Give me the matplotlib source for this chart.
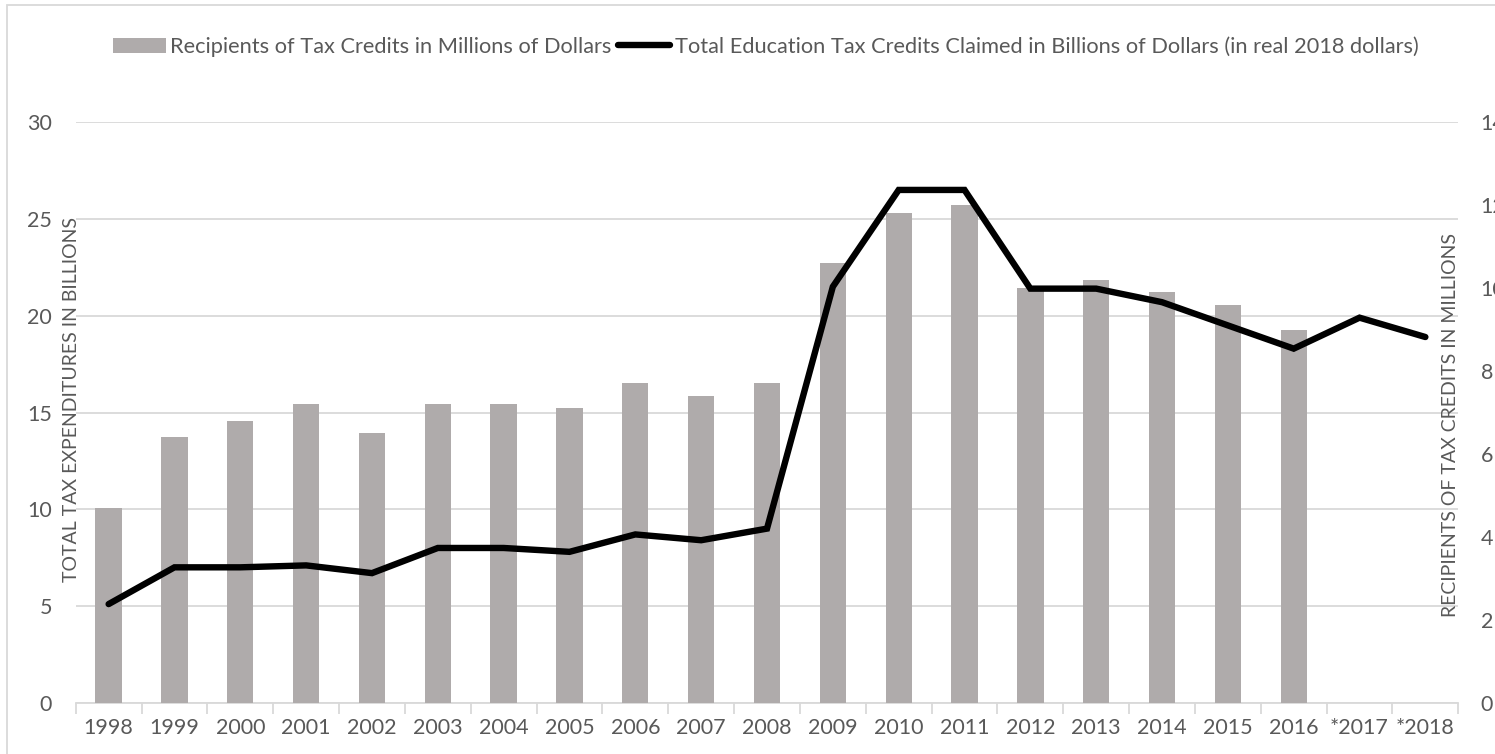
import numpy as np
import matplotlib.pyplot as plt
from matplotlib.patches import Rectangle

# values
years = ['1998', '1999', '2000', '2001', '2002', '2003', '2004', '2005', '2006',
         '2007', '2008', '2009', '2010', '2011', '2012', '2013', '2014', '2015',
         '2016', '*2017', '*2018']
# recipients in millions (right axis), no data for 2017/2018
recipients = [4.7, 6.4, 6.8, 7.2, 6.5, 7.2, 7.2, 7.1, 7.7, 7.4, 7.7,
              10.6, 11.8, 12.0, 10.0, 10.2, 9.9, 9.6, 9.0]
# total credits claimed in billions (left axis)
credits = [5.1, 7.0, 7.0, 7.1, 6.7, 8.0, 8.0, 7.8, 8.7, 8.4, 9.0,
           21.5, 26.5, 26.5, 21.4, 21.4, 20.7, 19.5, 18.3, 19.9, 18.9]

bar_label = 'Recipients of Tax Credits in Millions of Dollars'
line_label = 'Total Education Tax Credits Claimed in Billions of Dollars (in real 2018 dollars)'

plt.rcParams['font.family'] = ['Lato', 'DejaVu Sans']
text_col = '#595959'
grid_col = '#d9d9d9'

W, H = 1495, 754
fig = plt.figure(figsize=(W / 100, H / 100), dpi=100)
ax = fig.add_axes([75.7 / W, 1 - 702.8 / H, (1458.3 - 75.7) / W, (702.8 - 122.2) / H])

x = np.arange(len(years))

# left axis: gridlines and scale for the line
ax.set_xlim(-0.5, len(years) - 0.5)
ax.set_ylim(0, 30)
ax.set_yticks(np.arange(0, 31, 5))
ax.grid(axis='y', color=grid_col, linewidth=1.3)
ax.set_axisbelow(True)
for s in ['top', 'left', 'right']:
    ax.spines[s].set_visible(False)
ax.spines['bottom'].set_color(grid_col)
ax.spines['bottom'].set_linewidth(1.3)
ax.set_xticks(x)
ax.set_xticklabels(years)
ax.set_xticks(np.arange(-0.5, len(years), 1), minor=True)
ax.tick_params(axis='x', which='major', length=0, pad=11, labelsize=15.5, labelcolor=text_col)
ax.tick_params(axis='x', which='minor', length=8, width=1.3, color=grid_col)
ax.tick_params(axis='y', length=0, pad=17, labelsize=15.5, labelcolor=text_col)

# right axis: bars
ax2 = ax.twinx()
bars = ax2.bar(x[:len(recipients)], recipients, width=0.4, color='#afabab',
               label=bar_label)
ax2.set_ylim(0, 14)
ax2.set_yticks(np.arange(0, 15, 2))
ax2.tick_params(axis='y', length=0, pad=16, labelsize=15.5, labelcolor=text_col)
for s in ax2.spines.values():
    s.set_visible(False)

# top layer: the line, on the left scale
ax3 = ax.twinx()
ax3.set_ylim(0, 30)
line, = ax3.plot(x, credits, color='black', linewidth=4.6,
                 solid_capstyle='round', solid_joinstyle='miter', label=line_label)
ax3.axis('off')

fig.text(72 / W, 1 - 399 / H, 'TOTAL TAX EXPENDITURES IN BILLIONS', rotation=90,
         ha='center', va='center', fontsize=14, color=text_col)
fig.text(1450 / W, 1 - 425 / H, 'RECIPIENTS OF TAX CREDITS IN MILLIONS', rotation=90,
         ha='center', va='center', fontsize=14, color=text_col)

fig.legend(handles=[bars, line], labels=[bar_label, line_label],
           loc='center', bbox_to_anchor=(766 / W, 1 - 47 / H), ncol=2,
           frameon=False, fontsize=15.7, handlelength=2.4, handletextpad=0.2,
           columnspacing=0.3, labelcolor=text_col)

# light chart border (only top and left edges fall inside the picture)
fig.patches.append(Rectangle((7 / W, -0.1), 1.2, 1.1 - 5 / H, transform=fig.transFigure,
                             fill=False, edgecolor=grid_col, linewidth=1.3))

fig.savefig('out.png', dpi=100)
